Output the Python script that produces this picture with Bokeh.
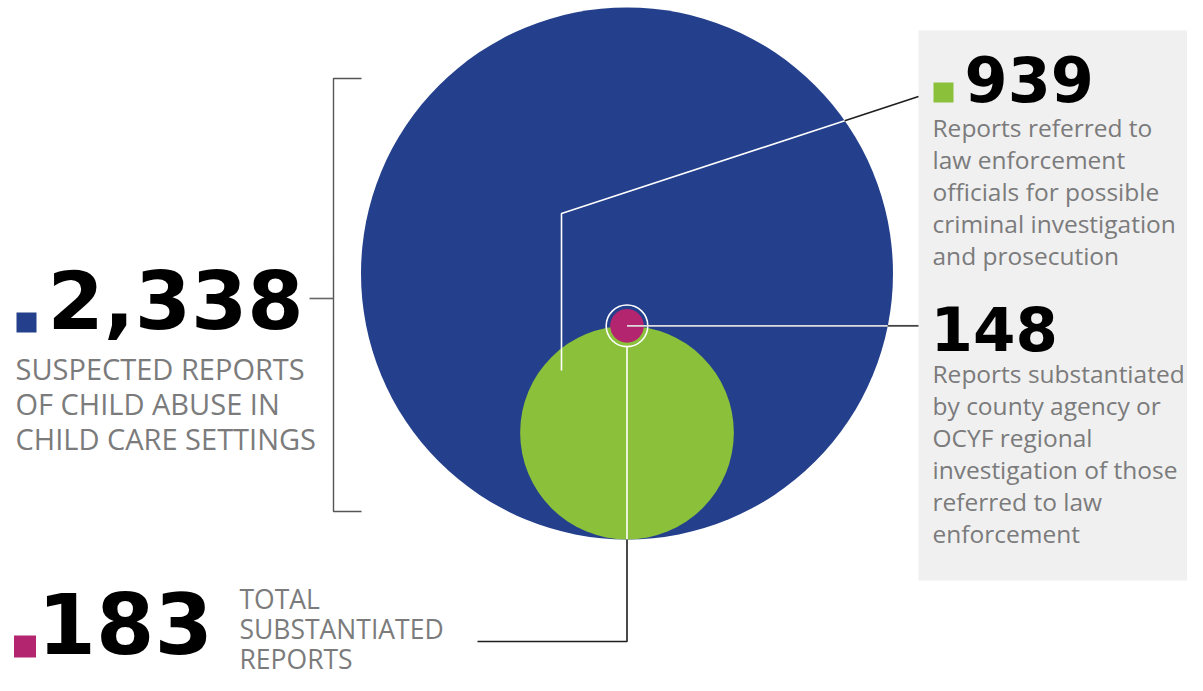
from bokeh.plotting import figure
from bokeh.models import Range1d
from bokeh.core.properties import value
from bokeh.embed import file_html
from bokeh.resources import INLINE
import math

# ---- data ----
values = [2338, 939, 183, 148]
number_labels = ["2,338", "939", "183", "148"]
colors = ["#24408c", "#8bc03b", "#b3256f", "#b3256f"]
suspected_text = ["SUSPECTED REPORTS", "OF CHILD ABUSE IN", "CHILD CARE SETTINGS"]
referred_text = ["Reports referred to", "law enforcement", "officials for possible",
                 "criminal investigation", "and prosecution"]
substantiated_county_text = ["Reports substantiated", "by county agency or", "OCYF regional",
                             "investigation of those", "referred to law", "enforcement"]
total_text = ["TOTAL", "SUBSTANTIATED", "REPORTS"]

# ---- layout ----
W, H = 1187, 675
p = figure(width=W, height=H, output_backend="svg", toolbar_location=None,
           x_range=Range1d(0, W), y_range=Range1d(H, 0),
           min_border=0, outline_line_color=None)
p.axis.visible = False
p.grid.visible = False
p.background_fill_color = "white"
p.border_fill_color = "white"

CX, CY, RMAX = 626.5, 273.0, 266.0
radii = [RMAX * v / values[0] for v in values]
r_blue, r_green, r_ring, r_mag = radii
cy_green = CY + r_blue - r_green
cy_small = cy_green - r_green

DARK = "#1e1e1e"
GREY_TXT = "#7b7b7c"
NUM_FONT = value("DejaVu Sans")
TXT_FONT = value("Open Sans")

# grey info box
p.quad(left=918, right=1200, top=30, bottom=580, fill_color="#f0f0f0", line_color=None)

# circles
p.circle(x=[CX], y=[CY], radius=r_blue, fill_color=colors[0], line_color=None)
p.circle(x=[CX], y=[cy_green], radius=r_green, fill_color=colors[1], line_color=None)
p.circle(x=[CX], y=[cy_small], radius=r_mag, fill_color=colors[3], line_color=None)
p.circle(x=[CX], y=[cy_small], radius=r_ring, fill_color=None, line_color="white", line_width=1.6)

# --- leader for 939 ---
knee = (561.0, 213.0)
start_y = 370.0
end = (918.0, 96.0)
dx, dy = end[0] - knee[0], end[1] - knee[1]
fx, fy = knee[0] - CX, knee[1] - CY
a = dx * dx + dy * dy
b = 2 * (fx * dx + fy * dy)
c = fx * fx + fy * fy - r_blue ** 2
t = (-b + math.sqrt(b * b - 4 * a * c)) / (2 * a)
ix, iy = knee[0] + t * dx, knee[1] + t * dy
p.line(x=[knee[0], knee[0], ix], y=[start_y, knee[1], iy], line_color="white", line_width=1.6)
p.line(x=[ix, end[0]], y=[iy, end[1]], line_color=DARK, line_width=1.6)

# --- leader for 148 ---
edge_x = CX + math.sqrt(r_blue ** 2 - (cy_small - CY) ** 2)
p.line(x=[CX, edge_x], y=[cy_small, cy_small], line_color="#dcdcdc", line_width=1.8)
p.line(x=[edge_x, 918], y=[cy_small, cy_small], line_color="#444444", line_width=1.8)

# --- leader for 183 ---
bottom_green = cy_green + r_green
p.line(x=[CX, CX], y=[cy_small + r_ring, bottom_green], line_color="white", line_width=1.6)
p.line(x=[CX, CX, 477], y=[bottom_green, 641, 641], line_color=DARK, line_width=1.6)

# --- bracket for 2,338 ---
p.line(x=[361, 333, 333, 361], y=[78, 78, 511, 511], line_color="#555555", line_width=1.4)
p.line(x=[309, 333], y=[298, 298], line_color="#666666", line_width=1.6)

# ---- number labels ----
def number(x, y, txt, size):
    p.text(x=[x], y=[y], text=[txt], text_font=NUM_FONT, text_font_style="bold",
           text_font_size=size, text_color="black", text_baseline="middle")

p.rect(x=[26], y=[322], width=20, height=20, fill_color=colors[0], line_color=None)
number(47, 299, number_labels[0], "81px")

p.rect(x=[943], y=[92], width=20, height=20, fill_color=colors[1], line_color=None)
number(964, 78, number_labels[1], "62px")

number(930, 328, number_labels[3], "61px")

p.rect(x=[24.5], y=[646], width=22, height=22, fill_color=colors[2], line_color=None)
number(37, 622, number_labels[2], "84px")

# ---- descriptive text ----
def block(lines, x0, y0, step, size):
    p.text(x=[x0] * len(lines), y=[y0 + i * step for i in range(len(lines))], text=lines,
           text_font=TXT_FONT, text_font_size=size, text_color=GREY_TXT,
           text_baseline="middle")

block(suspected_text, 15, 368, 35, "29px")
block(referred_text, 932, 127, 32, "24.5px")
block(substantiated_county_text, 932, 373, 32, "24.5px")
block(total_text, 239, 598, 30, "26.5px")

open("out.html", "w").write(file_html(p, INLINE))
